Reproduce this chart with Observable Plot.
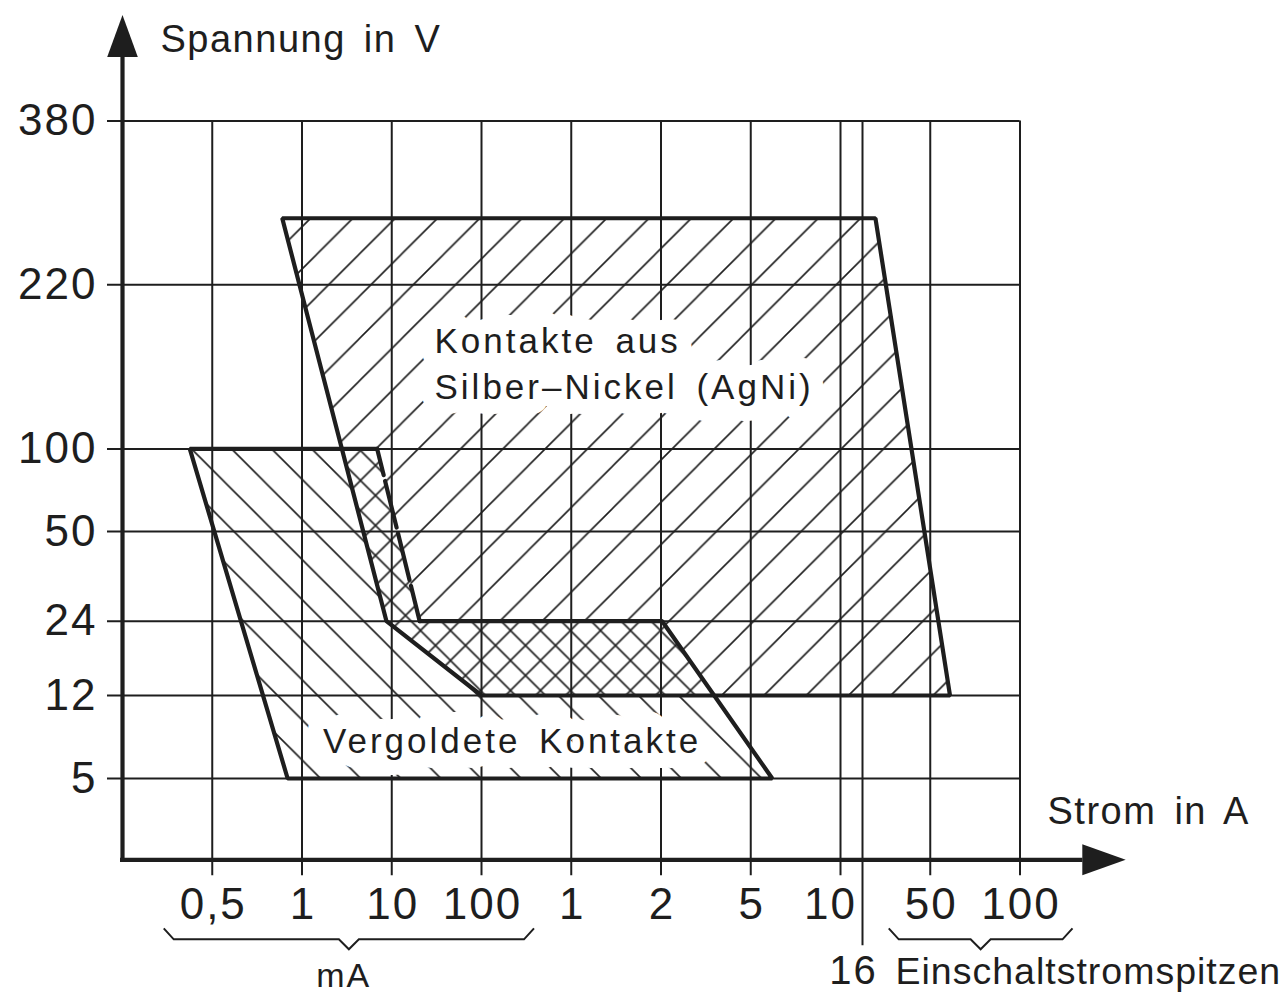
<!DOCTYPE html>
<html>
<head>
<meta charset="utf-8">
<script src="https://cdn.jsdelivr.net/npm/d3@7"></script>
<script src="https://cdn.jsdelivr.net/npm/@observablehq/plot@0.6"></script>
<style>
  html, body { margin: 0; padding: 0; background: #fff; }
  #chart svg { display: block; }
  /* letter spacing per text family (selected by font size) */
  #chart g[font-size="44"] text { letter-spacing: 2px; }
  #chart g[font-size="40"] text { letter-spacing: 2px; }
  #chart g[font-size="35"] text { letter-spacing: 3px; word-spacing: 6px; }
  #chart g[font-size="38"] text { letter-spacing: 1.5px; word-spacing: 6px; }
  #chart g[font-size="37.5"] text { letter-spacing: 1px; }
  #chart g[font-size="34"] text { letter-spacing: 2px; }
</style>
</head>
<body>
<svg width="0" height="0" style="position:absolute">
  <defs>
    <pattern id="hatchAgNi" patternUnits="userSpaceOnUse" width="42.3" height="42.3" x="20.2" y="0">
      <path d="M0,42.3 L42.3,0 M-2,2 L2,-2 M40.3,44.3 L44.3,40.3" stroke="#1e1e1e" stroke-width="1.6" fill="none"/>
    </pattern>
    <pattern id="hatchGold" patternUnits="userSpaceOnUse" width="40.1" height="40.1" x="23.3" y="0">
      <path d="M0,0 L40.1,40.1 M-2,38.1 L2,42.1 M38.1,-2 L42.1,2" stroke="#1e1e1e" stroke-width="1.6" fill="none"/>
    </pattern>
    <pattern id="hatchCross" patternUnits="userSpaceOnUse" width="30" height="30" x="0" y="0">
      <rect x="0" y="0" width="30" height="30" fill="#fff"/>
      <path d="M0,30 L30,0 M-2,2 L2,-2 M28,32 L32,28 M0,0 L30,30 M-2,28 L2,32 M28,-2 L32,2" stroke="#1e1e1e" stroke-width="1.6" fill="none"/>
    </pattern>
  </defs>
</svg>
<div id="chart"></div>
<script>
// ---- axis categories (current in A, voltage in V) ----
const xTickValues = [0.0005, 0.001, 0.01, 0.1, 1, 2, 5, 10, 50, 100];
const xTickLabels = ["0,5", "1", "10", "100", "1", "2", "5", "10", "50", "100"];
const inrushLimit = 16;
const yTickValues = [5, 12, 24, 50, 100, 220, 380];
const yTickLabels = ["5", "12", "24", "50", "100", "220", "380"];

// ---- regions (vertices: current in A, voltage in V) ----
const agniCurrent = [0.00089, 22.5, 61, 0.1, 0.00947];
const agniVoltage = [285, 285, 12, 12, 24];
const goldCurrent = [0.038, 2.04, 6.2, 0.00092, 0.000375, 0.00854];
const goldVoltage = [24, 24, 5, 5, 100, 100];
const goldDashedCurrent = [0.00854, 0.038];
const goldDashedVoltage = [100, 24];
const overlapCurrent = [0.00501, 0.00854, 0.038, 2.04, 3.79, 0.1, 0.00947];
const overlapVoltage = [100, 100, 24, 24, 12, 12, 24];

// ---- texts ----
const yTitle = "Spannung in V";
const xTitle = "Strom in A";
const agniLabel = "Kontakte aus\nSilber–Nickel (AgNi)";
const goldLabel = "Vergoldete Kontakte";
const mAUnit = "mA";
const inrushLabel = "Einschaltstromspitzen";

const pts = (xs, ys) => xs.map((x, i) => ({x, y: ys[i]}));
const agni = pts(agniCurrent, agniVoltage);
const gold = pts(goldCurrent, goldVoltage);
const goldDashed = pts(goldDashedCurrent, goldDashedVoltage);
const overlap = pts(overlapCurrent, overlapVoltage);

const ink = "#1e1e1e";
const font = "'Liberation Sans', Arial, sans-serif";

const arrowUp = {draw(ctx) { ctx.moveTo(0, -21); ctx.lineTo(15.3, 21); ctx.lineTo(-15.3, 21); ctx.closePath(); }};
const arrowRight = {draw(ctx) { ctx.moveTo(21.7, 0); ctx.lineTo(-21.7, -15.5); ctx.lineTo(-21.7, 15.5); ctx.closePath(); }};

function brace(fromValue, toValue, padLeft, padRight) {
  return (index, scales, values, dims) => {
    const x = scales.x;
    const x0 = x(fromValue) - padLeft, x1 = x(toValue) + padRight, xm = (x0 + x1) / 2;
    const yb = dims.height - dims.marginBottom;
    const yt = yb + 69, yh = yb + 80, ytip = yb + 90;
    const p = document.createElementNS("http://www.w3.org/2000/svg", "path");
    p.setAttribute("d", `M${x0},${yt}L${x0 + 10},${yh}L${xm - 10},${yh}L${xm},${ytip}L${xm + 10},${yh}L${x1 - 10},${yh}L${x1},${yt}`);
    p.setAttribute("fill", "none");
    p.setAttribute("stroke", ink);
    p.setAttribute("stroke-width", "2");
    return p;
  };
}

const haloStyle = {fill: "#fff", stroke: "#fff", strokeWidth: 30, strokeLinejoin: "round"};

const chart = Plot.plot({
  width: 1288,
  height: 994,
  marginTop: 120.5,
  marginBottom: 994 - 859.3,
  marginLeft: 122,
  marginRight: 1288 - 1019.5,
  style: `font-family: ${font}; background: #fff; color: ${ink};`,
  x: {type: "linear", domain: [0, 0.0005, 0.001, 0.01, 0.1, 1, 2, 5, 10, 16, 50, 100],
      range: [122, 211.75, 301.5, 391.25, 481, 570.75, 660.5, 750.25, 840, 862, 929.75, 1019.5], axis: null},
  y: {type: "linear", domain: [0, 5, 12, 24, 50, 100, 220, 380],
      range: [859.3, 778, 695, 620.7, 531, 448.4, 284.3, 120.5], axis: null},
  marks: [
    // hatched regions
    Plot.line(gold, {x: "x", y: "y", curve: "linear-closed", fill: "url(#hatchGold)", stroke: "none"}),
    Plot.line(agni, {x: "x", y: "y", curve: "linear-closed", fill: "url(#hatchAgNi)", stroke: "none"}),
    Plot.line(overlap, {x: "x", y: "y", curve: "linear-closed", fill: "url(#hatchCross)", stroke: "none"}),
    // grid + ticks (y1 = top so insetBottom extends below the x axis)
    Plot.ruleY(yTickValues, {y: d => d, x1: 0, x2: 100, insetLeft: -15, stroke: ink, strokeWidth: 2}),
    Plot.ruleX(xTickValues, {x: d => d, y1: 380, y2: 0, insetBottom: -16, stroke: ink, strokeWidth: 2}),
    Plot.ruleX([inrushLimit], {x: d => d, y1: 380, y2: 0, insetBottom: -86, stroke: ink, strokeWidth: 2}),
    // region labels with white backing
    Plot.text([agniLabel], {x: 0.1, y: 220, text: d => d, dx: -47, dy: 36, lineAnchor: "top", textAnchor: "start",
      fontSize: 35, lineHeight: 1.3, ...haloStyle}),
    Plot.text([goldLabel], {x: 0.001, y: 12, text: d => d, dx: 21, dy: 33, lineAnchor: "top", textAnchor: "start",
      fontSize: 35, ...haloStyle}),
    Plot.text([agniLabel], {x: 0.1, y: 220, text: d => d, dx: -47, dy: 36, lineAnchor: "top", textAnchor: "start",
      fontSize: 35, lineHeight: 1.3, fill: ink}),
    Plot.text([goldLabel], {x: 0.001, y: 12, text: d => d, dx: 21, dy: 33, lineAnchor: "top", textAnchor: "start",
      fontSize: 35, fill: ink}),
    // outlines
    Plot.line(agni, {x: "x", y: "y", curve: "linear-closed", stroke: ink, strokeWidth: 4.2, strokeLinejoin: "miter"}),
    Plot.line(gold, {x: "x", y: "y", stroke: ink, strokeWidth: 4.2, strokeLinejoin: "miter"}),
    Plot.line(goldDashed, {x: "x", y: "y", stroke: ink, strokeWidth: 4.2, strokeDasharray: "48,6", strokeDashoffset: 21}),
    // axes with arrows
    Plot.ruleX([0], {x: d => d, y1: 380, y2: 0, insetTop: -65, insetBottom: -2, stroke: ink, strokeWidth: 4.2}),
    Plot.ruleY([0], {y: d => d, x1: 0, x2: 100, insetRight: -63, insetLeft: -2, stroke: ink, strokeWidth: 4.2}),
    Plot.dot([{x: 0, y: 380}], {x: "x", y: "y", dy: -85, symbol: arrowUp, r: 10, fill: ink, stroke: "none"}),
    Plot.dot([{x: 100, y: 0}], {x: "x", y: "y", dx: 84, symbol: arrowRight, r: 10, fill: ink, stroke: "none"}),
    // tick labels
    Plot.text(yTickValues, {x: 0, y: d => d, text: (d, i) => yTickLabels[i], dx: -25, textAnchor: "end",
      fontSize: 44, fill: ink}),
    Plot.text(xTickValues, {filter: d => d !== 10, x: d => d, y: 0, text: (d, i) => xTickLabels[i], dx: 1, dy: 28,
      lineAnchor: "top", fontSize: 44, fill: ink}),
    Plot.text(xTickValues, {filter: d => d === 10, x: d => d, y: 0, text: (d, i) => xTickLabels[i], dx: -10, dy: 28,
      lineAnchor: "top", fontSize: 44, fill: ink}),
    Plot.text([inrushLimit], {x: d => d, y: 0, text: d => String(d), dx: -9, dy: 96, lineAnchor: "top",
      fontSize: 40, fill: ink}),
    // titles and units
    Plot.text([yTitle], {x: 0, y: 380, text: d => d, dx: 38, dy: -96, lineAnchor: "top", textAnchor: "start",
      fontSize: 38, fill: ink}),
    Plot.text([xTitle], {x: 100, y: 0, text: d => d, dx: 27.5, dy: -63, lineAnchor: "top", textAnchor: "start",
      fontSize: 38, fill: ink}),
    Plot.text([mAUnit], {x: 0.01, y: 0, text: d => d, dx: -48, dy: 103, lineAnchor: "top",
      fontSize: 34, fill: ink}),
    Plot.text([inrushLabel], {x: inrushLimit, y: 0, text: d => d, dx: 33, dy: 98, lineAnchor: "top", textAnchor: "start",
      fontSize: 37.5, fill: ink}),
    // braces
    brace(0.0005, 0.1, 48, 53),
    brace(50, 100, 41, 53)
  ]
});
document.getElementById("chart").appendChild(chart);
</script>
</body>
</html>
